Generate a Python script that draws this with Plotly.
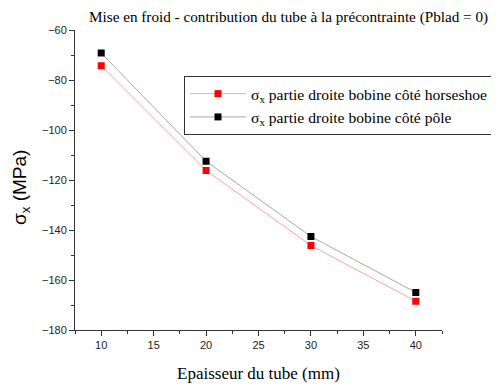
import plotly.graph_objects as go

epaisseur = [10, 20, 30, 40]
sigma_horseshoe = [-74.3, -116.2, -146.2, -168.5]
sigma_pole = [-69.2, -112.5, -142.6, -165.0]

SERIF = "Liberation Serif, Times New Roman, serif"
SANS = "Liberation Sans, Arial, sans-serif"

fig = go.Figure()
fig.add_trace(go.Scatter(
    x=epaisseur, y=sigma_horseshoe, mode="lines+markers",
    name="σ<sub>x</sub> partie droite bobine côté horseshoe",
    line=dict(color="#ff9f9f", width=1),
    marker=dict(symbol="square", size=7, color="#ff0000"),
))
fig.add_trace(go.Scatter(
    x=epaisseur, y=sigma_pole, mode="lines+markers",
    name="σ<sub>x</sub> partie droite bobine côté pôle",
    line=dict(color="#a8a8a8", width=1),
    marker=dict(symbol="square", size=7, color="#000000"),
))

# page has an 8px body offset: work in page coordinates, subtract offset
OFF = 8
W, H = 499 - OFF, 388 - OFF
L, R, T, B = 75 - OFF, 57, 30 - OFF, 58
PW, PH = W - L - R, H - T - B


def px(xpage):
    return (xpage - OFF - L) / PW


def py(ypage):
    return (H - B - (ypage - OFF)) / PH


fig.update_layout(
    width=W, height=H,
    margin=dict(l=L, r=R, t=T, b=B, autoexpand=False),
    paper_bgcolor="white", plot_bgcolor="white",
    showlegend=True,
    legend=dict(
        x=px(184), y=py(76), xanchor="left", yanchor="top",
        bordercolor="#333333", borderwidth=1, bgcolor="white",
        font=dict(family=SERIF, size=15.6, color="black"),
        tracegroupgap=0, itemwidth=56,
    ),
    annotations=[
        dict(text="Mise en froid - contribution du tube à la précontrainte (Pblad = 0)",
             xref="paper", yref="paper", x=px(288), y=py(17),
             xanchor="center", yanchor="middle", showarrow=False,
             font=dict(family=SERIF, size=15.2, color="black")),
        dict(text="Epaisseur du tube (mm)",
             xref="paper", yref="paper", x=px(258), y=py(373),
             xanchor="center", yanchor="middle", showarrow=False,
             font=dict(family=SERIF, size=17, color="black")),
        dict(text="σ<sub>x</sub> (MPa)", textangle=-90,
             xref="paper", yref="paper", x=px(21), y=py(188),
             xanchor="center", yanchor="middle", showarrow=False,
             font=dict(family=SANS, size=19, color="black")),
    ],
)

fig.update_xaxes(
    range=[7.5, 42.5], tickmode="array", tickvals=[10, 15, 20, 25, 30, 35, 40],
    ticks="outside", ticklen=5, tickwidth=1, tickcolor="#333333",
    minor=dict(ticks="outside", ticklen=3, dtick=2.5, tick0=0, tickcolor="#333333"),
    showline=True, linecolor="#333333", linewidth=1, showgrid=False, zeroline=False,
    tickfont=dict(family=SANS, size=11, color="#222222"), automargin=False,
)
fig.update_yaxes(
    range=[-180, -60], tickmode="array", tickvals=[-180, -160, -140, -120, -100, -80, -60],
    ticks="outside", ticklen=5, tickwidth=1, tickcolor="#333333",
    minor=dict(ticks="outside", ticklen=3, dtick=10, tick0=0, tickcolor="#333333"),
    showline=True, linecolor="#333333", linewidth=1, showgrid=False, zeroline=False,
    tickfont=dict(family=SANS, size=11, color="#222222"), automargin=False,
)

fig.write_html("out.html")
